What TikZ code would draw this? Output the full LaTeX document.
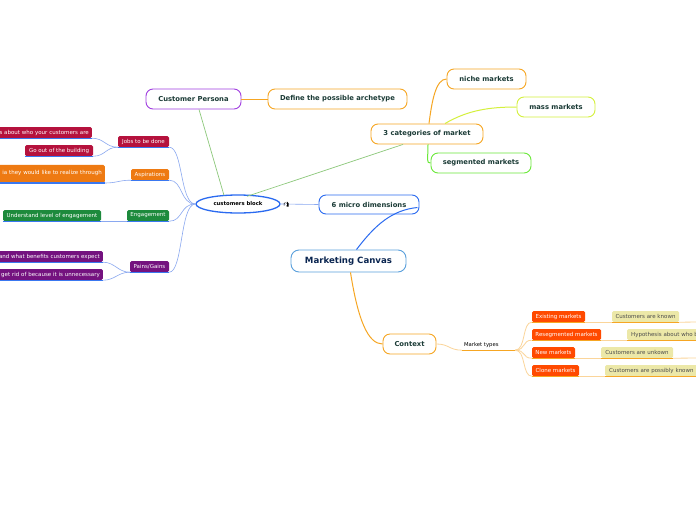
\documentclass[tikz,border=0pt]{standalone}
\usepackage{fontspec}
\setmainfont{DejaVu Sans}
\usetikzlibrary{calc,shapes.geometric}
\definecolor{tdark}{HTML}{1B3B36}
\definecolor{navy}{HTML}{0A2550}
\definecolor{mcblue}{HTML}{5AA0DC}
\definecolor{mdblue}{HTML}{2A6AF0}
\definecolor{cppurple}{HTML}{A03EE0}
\definecolor{orng}{HTML}{F6A623}
\definecolor{massc}{HTML}{D4F03C}
\definecolor{segc}{HTML}{6BE83A}
\definecolor{crim}{HTML}{B5123D}
\definecolor{aspor}{HTML}{EE7A12}
\definecolor{enggr}{HTML}{1D8A3C}
\definecolor{pgpur}{HTML}{74127F}
\definecolor{redor}{HTML}{FF4A00}
\definecolor{beige}{HTML}{ECE8A8}
\definecolor{ulblue}{HTML}{3A78F0}
\definecolor{lnblue}{HTML}{8AA8F0}
\definecolor{grln}{HTML}{8CC87A}
\definecolor{lorng}{HTML}{FBD59A}
\tikzset{
  topic/.style={draw, rounded corners=7, line width=0.9, fill=white, inner sep=0,
    minimum height=20, font=\bfseries\fontsize{6.8}{7.5}\selectfont, text=tdark},
  leaf/.style={rounded corners=1.5, inner sep=0, minimum height=11,
    font=\fontsize{5.5}{6.5}\selectfont, text=white},
  bleaf/.style={leaf, fill=beige, text=black!70},
  ulb/.style={ulblue, line width=1.4},
  ulo/.style={orng, line width=1.2},
  conb/.style={lnblue, line width=0.6},
  cono/.style={lorng, line width=0.8},
}
\begin{document}
\begin{tikzpicture}[x=1pt,y=-1pt]
\clip (0,0) rectangle (696,520);
\fill[white] (0,0) rectangle (696,520);

% central
\node[topic, draw=mcblue, text=navy, minimum width=115, minimum height=22, rounded corners=8,
  font=\bfseries\fontsize{8.6}{9}\selectfont] (mc) at (348.5,261) {Marketing Canvas};
\node[topic, draw=mdblue, minimum width=100, minimum height=19] (md) at (369,204.5) {6 micro dimensions};
\node[draw=mdblue, line width=1.3, ellipse, fill=white, minimum width=84, minimum height=18, inner sep=0,
  font=\bfseries\fontsize{5.3}{6}\selectfont] (cb) at (238,204) {customers block};
\node[topic, draw=cppurple, minimum width=95] (cp) at (193.5,99) {Customer Persona};
\node[topic, draw=orng, minimum width=139] (arch) at (337.5,99) {Define the possible archetype};
\node[topic, draw=orng, minimum width=112] (cat) at (427,134) {3 categories of market};
\node[topic, draw=orng, minimum width=79] (niche) at (486.5,79) {niche markets};
\node[topic, draw=massc, minimum width=78] (mass) at (556,107) {mass markets};
\node[topic, draw=segc, minimum width=100] (seg) at (481,163) {segmented markets};
\node[topic, draw=orng, minimum width=53] (ctx) at (409.5,344) {Context};

% connectors centre
\draw[mdblue, line width=1] ($(mc.north)+(8,0)$) .. controls (375,225) and (392,210) .. ($(md.east)+(-2,3)$);
\draw[orng, line width=1] ($(mc.south)+(2,0)$) .. controls (358,320) and (368,344) .. (ctx.west);
\draw[conb] (cb.east) -- (md.west);
\draw[grln, line width=0.7] ($(cp.south)+(5.5,0)$) -- ($(cb.north)+(-14,1)$);
\draw[grln, line width=0.7] ($(cb.north)+(9,2)$) -- ($(cat.south)+(-24,0)$);
\draw[orng, line width=0.8] (cp.east) -- (arch.west);
\draw[orng, line width=1] ($(cat.north)+(2,0)$) .. controls (432,100) and (436,79) .. (niche.west);
\draw[massc, line width=1] ($(cat.north)+(18,0)$) .. controls (468,110) and (490,107) .. (mass.west);
\draw[segc, line width=1] ($(cat.south)+(1,0)$) .. controls (428,160) and (426,163) .. (seg.west);

% small icon
\coordinate (ic) at (287,204);
\fill[black] ($(ic)+(0,-2.5)$) -- ($(ic)+(1.5,-1)$) -- ($(ic)+(1.5,2.5)$) -- ($(ic)+(-0.5,2.5)$) -- ($(ic)+(-0.5,0)$) -- cycle;
\draw[black, line width=0.5] ($(ic)+(-3,1.5)$) -- ($(ic)+(-3,-0.5)$) -- ($(ic)+(-1.5,-1.5)$);
\fill[white] ($(ic)+(-1,-0.5)$) rectangle ($(ic)+(0.3,1)$);

% market types
\node[inner xsep=2, inner ysep=0, text width=49, align=left, minimum height=10,
  font=\fontsize{5.3}{6}\selectfont, text=black] (mt) at (488.5,345) {Market types};
\draw[cono] (ctx.east) .. controls (449,344) and (449,350) .. (mt.south west);
\draw[ulo] (mt.south west) -- (mt.south east);

\node[leaf, fill=redor, minimum width=53] (em) at (558.5,316.5) {Existing markets};
\node[leaf, fill=redor, minimum width=69] (rm) at (566.5,334.5) {Resegmented markets};
\node[leaf, fill=redor, minimum width=43] (nm) at (553.5,352.5) {New markets};
\node[leaf, fill=redor, minimum width=47] (clm) at (555.5,370.5) {Clone markets};
\foreach \n in {em,rm,nm,clm}{
  \draw[cono] (mt.south east) .. controls (526,350) and (522,0 |- \n.south) .. (\n.south west);
  \draw[ulo] (\n.south west) -- (\n.south east);
}
\node[bleaf, minimum width=67] (k1) at (645.5,316.5) {Customers are known};
\node[bleaf, minimum width=80, anchor=west, align=left, inner xsep=4, text width=72] (k2) at (627,334.5) {Hypothesis about who b};
\node[bleaf, minimum width=72] (k3) at (637,352.5) {Customers are unkown};
\node[bleaf, minimum width=96, anchor=west, align=left, inner xsep=4, text width=88] (k4) at (605,370.5) {Customers are possibly known};
\draw[cono] (em.south east) -- (k1.south west);
\draw[cono] (rm.south east) -- (k2.south west);
\draw[cono] (nm.south east) -- (k3.south west);
\draw[cono] (clm.south east) -- (k4.south west);
\foreach \n in {k1,k2,k3,k4}{\draw[ulo] (\n.south west) -- (\n.south east);}
\draw[cono] (k1.south east) -- (700,322);
\draw[cono] (k3.south east) -- (700,358);

% left side
\node[leaf, fill=crim, minimum width=51] (jobs) at (143.5,141.5) {Jobs to be done};
\node[leaf, fill=aspor, minimum width=38] (asp) at (150,174.5) {Aspirations};
\node[leaf, fill=enggr, minimum width=42] (eng) at (148,215.5) {Engagement};
\node[leaf, fill=pgpur, minimum width=39] (pg) at (149.5,266.5) {Pains/Gains};

\node[leaf, fill=crim, anchor=east, minimum width=100, align=right, text width=94, inner xsep=2] (j1) at (92,132.5) {s about who your customers are};
\node[leaf, fill=crim, minimum width=68] (j2) at (59,150.5) {Go out of the building};
\node[leaf, fill=aspor, anchor=south east, minimum width=110, minimum height=18, align=right, text width=104, inner xsep=3] (a1) at (105,183) {\raisebox{3.5pt}{ia they would like to realize through}};
\node[leaf, fill=enggr, minimum width=98] (e1) at (52,215.5) {Understand level of engagement};
\node[leaf, fill=pgpur, anchor=east, minimum width=110, align=right, text width=104, inner xsep=3] (p1) at (103,256.5) {and what benefits customers expect};
\node[leaf, fill=pgpur, anchor=east, minimum width=110, align=right, text width=104, inner xsep=3] (p2) at (103,274.5) {get rid of because it is unnecessary};

\foreach \n in {jobs,asp,eng,pg}{
  \draw[conb] (cb.west) .. controls (180,204) and (183,0 |- \n.south) .. (\n.south east);
  \draw[ulb] (\n.south west) -- (\n.south east);
}
\foreach \p/\c in {jobs/j1,jobs/j2,asp/a1,eng/e1,pg/p1,pg/p2}{
  \draw[conb] (\p.south west) .. controls ($(\p.south west)+(-12,0)$) and ($(\c.south east)+(12,0)$) .. (\c.south east);
  \draw[ulb] (\c.south west) -- (\c.south east);
}
\end{tikzpicture}
\end{document}
